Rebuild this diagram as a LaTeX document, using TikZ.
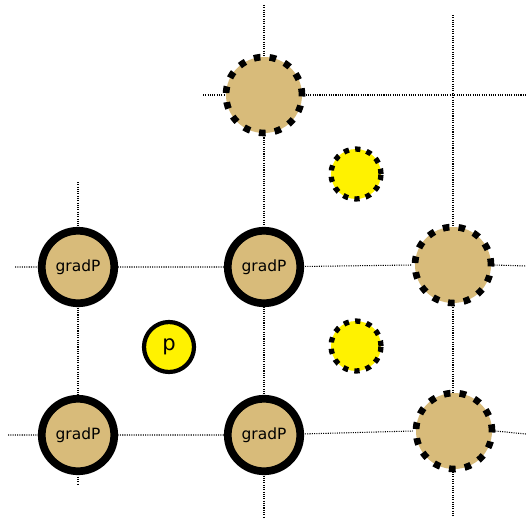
\documentclass[tikz,border=0pt]{standalone}
\usepackage{fontspec}
\setsansfont{DejaVu Sans}
\usepackage{tikz}
\usetikzlibrary{backgrounds}

\definecolor{areia}{RGB}{216,187,122}

\begin{document}
\begin{tikzpicture}[
      x=0.02cm, y=-0.02cm,
      grad/.style={circle, draw=black, fill=areia, line width=4.4pt, minimum size=1.45cm, inner sep=0pt, font=\sffamily\fontsize{8.8}{10}\selectfont},
      gradfant/.style={circle, draw=black, fill=areia, line width=3.8pt, dash pattern=on 3.8pt off 5.2pt, minimum size=1.52cm, inner sep=0pt},
      pres/.style={circle, draw=black, fill=yellow, line width=2.4pt, minimum size=1.0cm, inner sep=0pt, font=\sffamily\fontsize{12}{14}\selectfont},
      presfant/.style={circle, draw=black, fill=yellow, line width=3pt, dash pattern=on 3pt off 3.6pt, minimum size=1.0cm, inner sep=0pt},
      grade/.style={line width=0.6pt, dash pattern=on 0.6pt off 0.7pt}
  ]
      \useasboundingbox (0,0) rectangle (526,517);

      % Nos de gradiente
      \node[grad] (g11) at (78,267) {gradP};
      \node[grad] (g12) at (264,267) {gradP};
      \node[grad] (g21) at (78,435) {gradP};
      \node[grad] (g22) at (264,435) {gradP};

      % Nos fantasmas
      \node[gradfant] (gt) at (264,95) {};
      \node[gradfant] (gr1) at (453,265) {};
      \node[gradfant] (gr2) at (454,431) {};

      % Pressao
      \node[pres] (p) at (169,347) {p};
      \node[presfant] (py1) at (356,174) {};
      \node[presfant] (py2) at (356,346) {};

      % Linhas da malha
      \coordinate (v1a) at (78,182);   \coordinate (v1b) at (78,485);
      \coordinate (v2a) at (264,5);    \coordinate (v2b) at (264,517);
      \coordinate (v3a) at (453,15);   \coordinate (v3b) at (453,517);
      \coordinate (h0a) at (203,95);   \coordinate (h0b) at (526,95);
      \coordinate (h1a) at (15,267);   \coordinate (h1b) at (526,266);
      \coordinate (h2a) at (8,435);    \coordinate (h2b) at (526,434);

      \begin{pgfonlayer}{background}
        \draw[grade] (v1a) -- (g11.center) -- (g21.center) -- (v1b);
        \draw[grade] (v2a) -- (gt.center) -- (g12.center) -- (g22.center) -- (v2b);
        \draw[grade] (v3a) -- (v3b);
        \draw[grade] (h0a) -- (gt.center) -- (h0b);
        \draw[grade] (h1a) -- (g11.center) -- (g12.center) -- (gr1.west);
        \draw[grade] (gr1.east) -- (h1b);
        \draw[grade] (h2a) -- (g21.center) -- (g22.center) -- (gr2.west);
        \draw[grade] (gr2.east) -- (h2b);
      \end{pgfonlayer}

  \end{tikzpicture}
\end{document}
